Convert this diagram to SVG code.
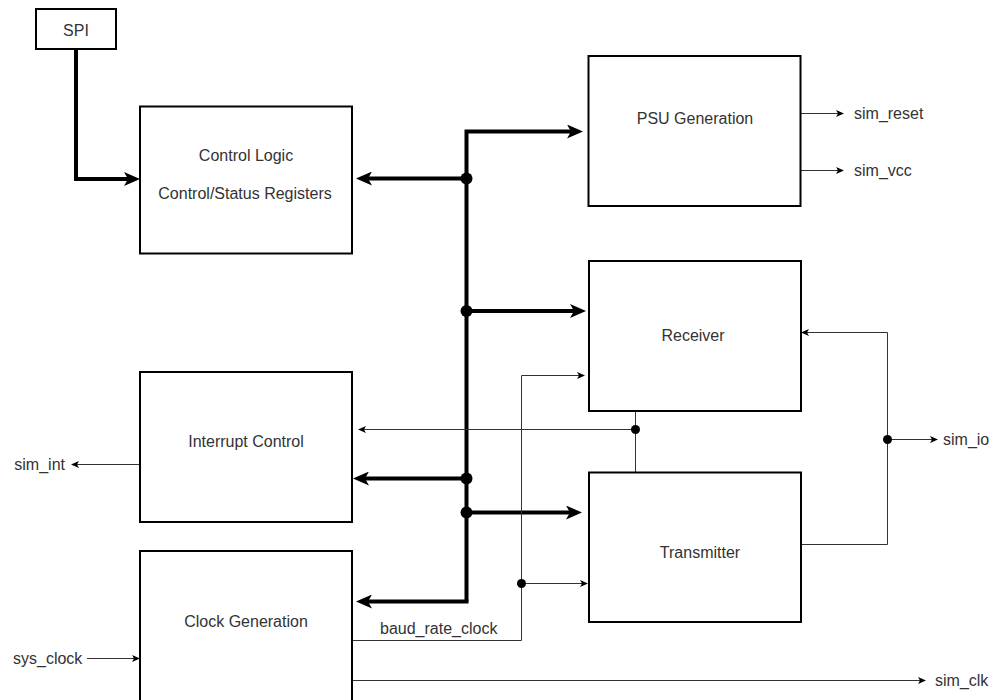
<svg xmlns="http://www.w3.org/2000/svg" width="1002" height="700" viewBox="0 0 1002 700">
<style>
.box{fill:#fff;stroke:#000;stroke-width:2}
.lbl{font-family:"Liberation Sans",Arial,sans-serif;font-size:16px;fill:#333}
.mid{text-anchor:middle}
.bus{fill:none;stroke:#000;stroke-width:4}
.thin{fill:none;stroke:#333;stroke-width:1}
.bdot{fill:#000}
</style>
<defs>
<marker id="ab" markerUnits="userSpaceOnUse" viewBox="0 0 16 14" markerWidth="16" markerHeight="14" refX="4" refY="7" orient="auto">
<path d="M16,7 L0,0 L4,7 L0,14 Z" fill="#000"/>
</marker>
<marker id="at" markerUnits="userSpaceOnUse" viewBox="0 0 8 7" markerWidth="8" markerHeight="7" refX="2" refY="3.5" orient="auto">
<path d="M8,3.5 L0,0 L2,3.5 L0,7 Z" fill="#000"/>
</marker>
</defs>
<rect width="1002" height="700" fill="#fff"/>

<g id="connectors">
<!-- bus -->
<path class="bus" d="M76,49 V179 H128" marker-end="url(#ab)"/>
<path class="bus" d="M466.5,601.5 V131.5 H571" marker-end="url(#ab)"/>
<path class="bus" d="M466.5,178.5 H368" marker-end="url(#ab)"/>
<path class="bus" d="M466.5,311 H574" marker-end="url(#ab)"/>
<path class="bus" d="M466.5,478.5 H365" marker-end="url(#ab)"/>
<path class="bus" d="M466.5,512.5 H570" marker-end="url(#ab)"/>
<path class="bus" d="M468.5,601.5 H368" marker-end="url(#ab)"/>
<circle class="bdot" cx="466.5" cy="178.5" r="6"/>
<circle class="bdot" cx="466.5" cy="311" r="6"/>
<circle class="bdot" cx="466.5" cy="478.5" r="6"/>
<circle class="bdot" cx="466.5" cy="512.5" r="6"/>
<!-- thin -->
<path class="thin" d="M635.5,411 V472"/>
<path class="thin" d="M635.5,429.5 H364" marker-end="url(#at)"/>
<circle class="bdot" cx="635.5" cy="429.5" r="4.5"/>
<path class="thin" d="M352,640.5 H521.5 V375.5 H579" marker-end="url(#at)"/>
<path class="thin" d="M521.5,583.5 H582" marker-end="url(#at)"/>
<circle class="bdot" cx="521.5" cy="583.5" r="4.5"/>
<path class="thin" d="M801,544.5 H887.5 V332.5 H807" marker-end="url(#at)"/>
<path class="thin" d="M887.5,439.5 H932" marker-end="url(#at)"/>
<circle class="bdot" cx="887.5" cy="439.5" r="4.5"/>
<path class="thin" d="M801,113.5 H838" marker-end="url(#at)"/>
<path class="thin" d="M801,170.5 H838" marker-end="url(#at)"/>
<path class="thin" d="M140,464.5 H77" marker-end="url(#at)"/>
<path class="thin" d="M87,658.5 H134" marker-end="url(#at)"/>
<path class="thin" d="M352,680.5 H920" marker-end="url(#at)"/>
</g>

<g id="spi">
<rect class="box" x="36" y="9" width="80" height="40"/>
<text class="lbl mid" x="76" y="35.5">SPI</text>
</g>
<g id="control-logic">
<rect class="box" x="140" y="106.5" width="212" height="147"/>
<text class="lbl mid" x="246" y="161">Control Logic</text>
<text class="lbl mid" x="245" y="199">Control/Status Registers</text>
</g>
<g id="interrupt-control">
<rect class="box" x="140" y="372" width="212" height="150"/>
<text class="lbl mid" x="246" y="447">Interrupt Control</text>
</g>
<g id="clock-generation">
<rect class="box" x="140" y="551" width="212" height="160"/>
<text class="lbl mid" x="246" y="627">Clock Generation</text>
</g>
<g id="psu-generation">
<rect class="box" x="588.5" y="56" width="212" height="150"/>
<text class="lbl mid" x="695" y="124">PSU Generation</text>
</g>
<g id="receiver">
<rect class="box" x="589" y="261" width="212" height="150"/>
<text class="lbl mid" x="693" y="340.5">Receiver</text>
</g>
<g id="transmitter">
<rect class="box" x="589" y="472.5" width="212" height="149.5"/>
<text class="lbl mid" x="700" y="558">Transmitter</text>
</g>

<g id="labels">
<text class="lbl" x="854" y="119">sim_reset</text>
<text class="lbl" x="854" y="176">sim_vcc</text>
<text class="lbl" x="943" y="445">sim_io</text>
<text class="lbl" x="65" y="470" text-anchor="end">sim_int</text>
<text class="lbl" x="13" y="664">sys_clock</text>
<text class="lbl" x="935" y="686">sim_clk</text>
<text class="lbl" x="380" y="634">baud_rate_clock</text>
</g>
</svg>
